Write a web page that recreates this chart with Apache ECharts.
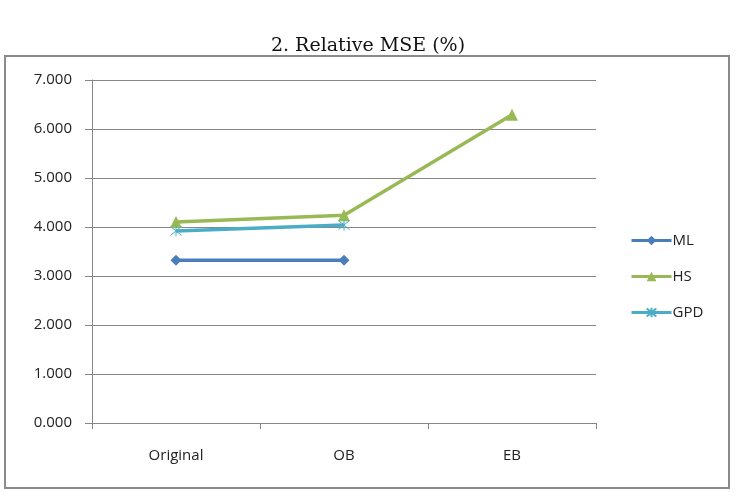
<!DOCTYPE html>
<html>
<head>
<meta charset="utf-8">
<script src="https://cdn.jsdelivr.net/npm/echarts@6/dist/echarts.min.js"></script>
<style>
  html, body { margin: 0; padding: 0; background: #fff; }
  #main { width: 736px; height: 492px; }
</style>
</head>
<body>
<div id="main"></div>
<script>
// categories and series values
var categories = ['Original', 'OB', 'EB'];
var mlValues = [3.32, 3.32, null];
var hsValues = [4.10, 4.24, 6.29];
var gpdValues = [3.92, 4.04, null];

var labelFont = 'Open Sans';
var starPath = 'path://M0,0 L10,10 M10,0 L0,10 M5,-1 L5,11';

var chart = echarts.init(document.getElementById('main'));
chart.setOption({
  backgroundColor: '#fff',
  animation: false,
  title: {
    text: '2. Relative MSE (%)',
    left: 'center',
    top: 32,
    textStyle: { fontFamily: 'DejaVu Serif', fontWeight: 'normal', fontSize: 19, color: '#111' }
  },
  graphic: [{
    type: 'rect',
    shape: { x: 5, y: 56, width: 724, height: 432 },
    style: { fill: 'none', stroke: '#8a8a8a', lineWidth: 2 },
    silent: true
  }],
  legend: {
    orient: 'vertical',
    left: 625,
    top: 228,
    itemWidth: 40,
    itemHeight: 12,
    itemGap: 21,
    lineStyle: { width: 3 },
    textStyle: { fontFamily: labelFont, fontSize: 15, color: '#222', padding: [0, 0, 0, -4] },
    data: ['ML', 'HS', 'GPD']
  },
  grid: { left: 92, top: 80, width: 504, height: 343 },
  xAxis: {
    type: 'category',
    data: categories,
    axisLine: { lineStyle: { color: '#868686', width: 1 } },
    axisTick: { show: true, length: 6, lineStyle: { color: '#868686' } },
    axisLabel: { fontFamily: labelFont, fontSize: 15, color: '#222', margin: 25 }
  },
  yAxis: {
    type: 'value',
    min: 0,
    max: 7,
    interval: 1,
    axisLine: { show: true, lineStyle: { color: '#868686', width: 1 } },
    axisTick: { show: true, length: 7, lineStyle: { color: '#868686' } },
    splitLine: { lineStyle: { color: '#868686', width: 1 } },
    axisLabel: {
      fontFamily: labelFont, fontSize: 15, color: '#222', margin: 20,
      formatter: function (v) { return v.toFixed(3); }
    }
  },
  series: [
    {
      name: 'ML', type: 'line', data: mlValues,
      symbol: 'diamond', symbolSize: 11,
      lineStyle: { color: '#4a7ebb', width: 3.5 },
      itemStyle: { color: '#4a7ebb' }
    },
    {
      name: 'HS', type: 'line', data: hsValues,
      symbol: 'triangle', symbolSize: 12,
      lineStyle: { color: '#98b954', width: 3.5 },
      itemStyle: { color: '#98b954' }
    },
    {
      name: 'GPD', type: 'line', data: gpdValues,
      symbol: starPath, symbolSize: 11,
      lineStyle: { color: '#4bacc6', width: 3.5 },
      itemStyle: { color: '#4bacc6', borderColor: '#4bacc6', borderWidth: 1 }
    }
  ]
});
</script>
</body>
</html>
